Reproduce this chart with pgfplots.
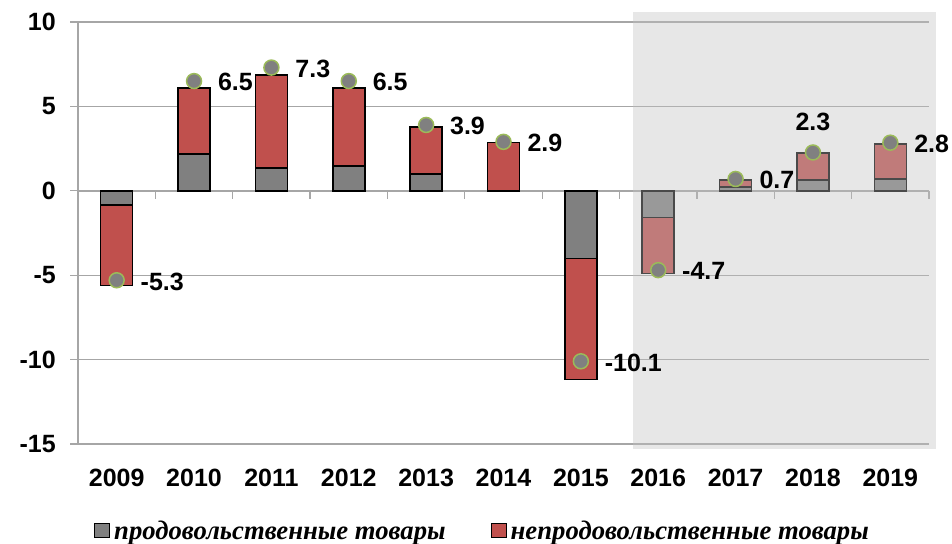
\documentclass[border=0pt]{standalone}
\usepackage{fontspec}
\setmainfont{Liberation Sans}
\newfontfamily\legfont{Liberation Serif}
\usepackage{pgfplots}
\usepackage{pgfplotstable}
\pgfplotsset{compat=1.18}
\definecolor{redbar}{HTML}{C0504D}
\definecolor{graybar}{HTML}{808080}
\definecolor{dotedge}{HTML}{9BBB59}
\definecolor{gridc}{HTML}{A6A6A6}
\definecolor{shadec}{RGB}{193,193,193}

\pgfplotstableread{
x food nonfood
1 -0.83 -4.77
2 2.19 3.89
3 1.34 5.52
4 1.48 4.60
5 1.00 2.77
6 0.00 2.86
7 -4.02 -7.16
8 -1.58 -3.33
9 0.22 0.43
10 0.65 1.58
11 0.69 2.07
}\datatable

\begin{document}
\begin{tikzpicture}
\useasboundingbox (-78bp,-100bp) rectangle (874bp,444bp);
\begin{axis}[
 at={(0,0)}, anchor=south west,
 scale only axis, width=851bp, height=422bp,
 xmin=0.5, xmax=11.5, ymin=-15, ymax=10,
 clip=false,
 axis x line*=bottom, axis y line*=left,
 axis line style={draw=gridc, line width=1.3bp},
 ymajorgrids, grid style={draw=gridc, line width=1.3bp},
 ytick={-15,-10,-5,0,5,10},
 yticklabels={-15,-10,-5,0,5,10},
 xtick={1,2,3,4,5,6,7,8,9,10,11},
 xticklabels={2009,2010,2011,2012,2013,2014,2015,2016,2017,2018,2019},
 tick align=outside,
 major tick length=8bp,
 ytick style={draw=gridc, line width=1.3bp},
 xtick style={draw=none},
 ticklabel style={font=\fontsize{25bp}{29bp}\selectfont\bfseries, inner sep=0pt},
 yticklabel style={anchor=east, xshift=-14bp},
 xticklabel style={anchor=north, yshift=-17bp},
 legend style={at={(axis description cs:0.0188,-0.206)}, anchor=west, draw=none, fill=none,
   legend columns=2, inner sep=0pt,
   font=\legfont\fontsize{26.7bp}{30bp}\selectfont\bfseries\itshape,
   nodes={inner sep=2bp},
   /tikz/every even column/.append style={column sep=43bp}},
 legend cell align=left,
]
\addlegendimage{legend image code/.code={\draw[fill=graybar, draw=black, line width=1bp] (0bp,-7bp) rectangle (15bp,7bp);}}
\addlegendentry{\hspace*{2bp}продовольственные товары}
\addlegendimage{legend image code/.code={\draw[fill=redbar, draw=black, line width=1bp] (0bp,-7bp) rectangle (15bp,7bp);}}
\addlegendentry{\hspace*{2bp}непродовольственные товары}

\draw[gridc, line width=1.5bp] (axis cs:0.5,0) -- (axis cs:11.5,0);
\pgfplotsinvokeforeach{1.5,2.5,3.5,4.5,5.5,6.5,7.5,8.5,9.5,10.5,11.5}{
  \draw[gridc, line width=1.3bp] (axis cs:#1,0) -- ([yshift=-8bp]axis cs:#1,0);
}

\addplot[ybar, bar width=32bp, bar shift=0pt, fill=redbar, draw=black, line width=1.6bp, forget plot]
  table[x=x, y expr=\thisrow{food}+\thisrow{nonfood}] {\datatable};
\addplot[ybar, bar width=32bp, bar shift=0pt, fill=graybar, draw=black, line width=1.6bp, forget plot]
  table[x=x, y=food] {\datatable};

\addplot[only marks, mark=*, mark size=7.5bp,
  mark options={fill=graybar, draw=dotedge, line width=1.5bp},
  point meta=explicit symbolic,
  nodes near coords={\makebox[0pt][l]{\raisebox{-10.3bp}[0pt][0pt]{\hspace*{24bp}\pgfplotspointmeta}}},
  every node near coord/.append style={font=\fontsize{25bp}{29bp}\selectfont\bfseries, text=black, inner sep=0pt, outer sep=0pt},
  forget plot]
  coordinates {(1,-5.3) [-5.3] (2,6.5) [6.5] (3,7.3) [7.3] (4,6.5) [6.5] (5,3.9) [3.9]
   (6,2.9) [2.9] (7,-10.1) [-10.1] (8,-4.7) [-4.7] (9,0.7) [0.7] (11,2.85) [2.8]};
\addplot[only marks, mark=*, mark size=7.5bp,
  mark options={fill=graybar, draw=dotedge, line width=1.5bp},
  point meta=explicit symbolic,
  nodes near coords={\makebox[0pt][c]{\raisebox{21.4bp}[0pt][0pt]{\pgfplotspointmeta}}},
  every node near coord/.append style={font=\fontsize{25bp}{29bp}\selectfont\bfseries, text=black, inner sep=0pt, outer sep=0pt},
  forget plot]
  coordinates {(10,2.27) [2.3]};

\fill[shadec, opacity=0.39] (axis cs:7.68,-15.27) rectangle (axis cs:11.585,10.59);
\end{axis}
\end{tikzpicture}
\end{document}
